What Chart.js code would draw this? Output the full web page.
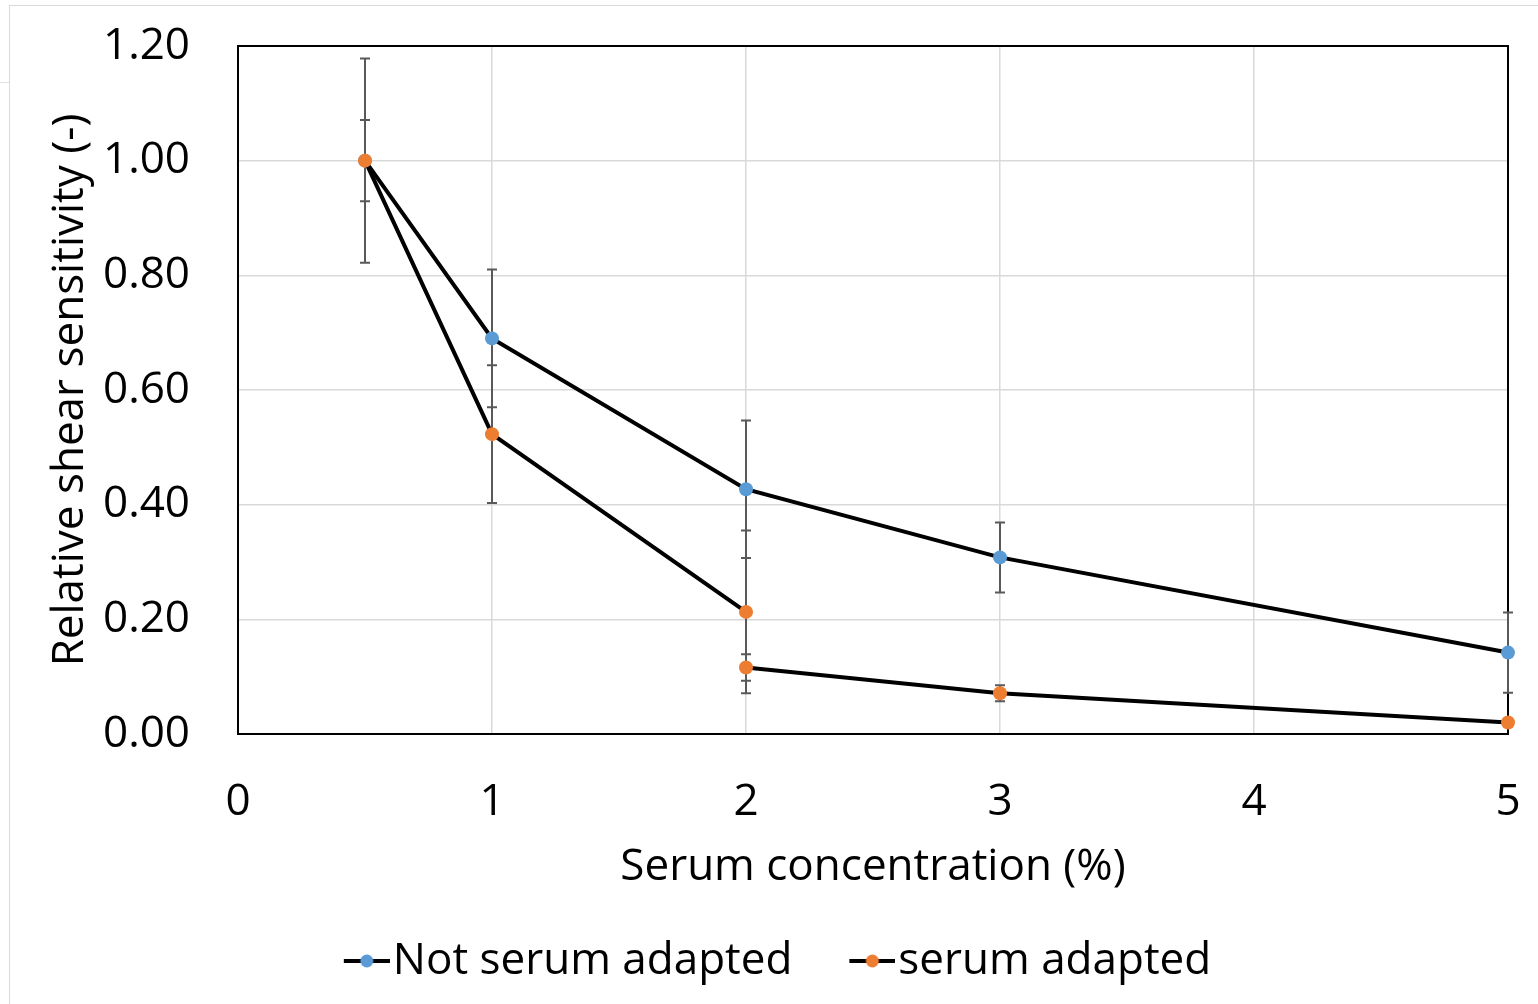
<!DOCTYPE html>
<html>
<head>
<meta charset="utf-8">
<script src="https://cdn.jsdelivr.net/npm/chart.js@4.4.1/dist/chart.umd.min.js"></script>
<style>
  html, body { margin: 0; padding: 0; background: #fff; }
  #wrap { position: relative; width: 1538px; height: 1004px; overflow: hidden; }
  #frame { position: absolute; left: 9px; top: 5px; width: 1600px; height: 1100px;
           border-left: 1px solid #d9d9d9; border-top: 1px solid #d9d9d9; }
  #tick { position: absolute; left: 0; top: 82px; width: 9px; height: 0; border-top: 1px solid #dde3ea; }
  canvas { position: absolute; left: 0; top: 0; }
</style>
</head>
<body>
<div id="wrap">
  <div id="frame"></div>
  <div id="tick"></div>
  <canvas id="c" width="1538" height="1004"></canvas>
</div>
<script>
// ---- data ----
const seriesNames = ['Not serum adapted', 'serum adapted'];
const notAdaptedX = [0.5, 1, 2, 3, 5];
const notAdaptedY = [1.00, 0.69, 0.427, 0.308, 0.142];
const notAdaptedErr = [0.178, 0.12, 0.12, 0.061, 0.07];
// serum adapted: the line breaks between the two x=2 points
const adaptedX = [0.5, 1, 2, 2, 2, 3, 5];
const adaptedY = [1.00, 0.523, 0.213, null, 0.116, 0.071, 0.020];
const adaptedErr = [0.071, 0.12, 0.142, null, 0.023, 0.014, 0];
const xTicks = [0, 1, 2, 3, 4, 5];
const yTicks = [0, 0.2, 0.4, 0.6, 0.8, 1.0, 1.2];

const FONT = "'Open Sans', 'Noto Sans', sans-serif";
const FS = 44;
const BLUE = '#5b9bd5';
const ORANGE = '#ed7d31';

function toPoints(xs, ys) { return xs.map((x, i) => ({ x: x, y: ys[i] })); }

// legend marker: black line with coloured dot, drawn on the right side of a wider transparent image
const LEG_PAD = 10;
const LEG_B = 74;               // pointStyleWidth
const LEG_W = LEG_B + FS - 6;   // image width (3px gap to text)
function legendMarker(color) {
  const cv = document.createElement('canvas');
  cv.width = LEG_W; cv.height = 16;
  const g = cv.getContext('2d');
  const x0 = LEG_W - 46;
  g.strokeStyle = '#000'; g.lineWidth = 4;
  g.beginPath(); g.moveTo(x0, 8); g.lineTo(LEG_W, 8); g.stroke();
  g.fillStyle = color;
  g.beginPath(); g.arc(x0 + 23, 8, 6.5, 0, Math.PI * 2); g.fill();
  return cv;
}
const markers = [legendMarker(BLUE), legendMarker(ORANGE)];

const errorBars = {
  id: 'errorBars',
  beforeDatasetsDraw(chart) {
    const ctx = chart.ctx;
    const xs = chart.scales.x, ys = chart.scales.y;
    const ca = chart.chartArea;
    ctx.save();
    ctx.strokeStyle = '#000'; ctx.lineWidth = 2;
    ctx.strokeRect(ca.left, ca.top, ca.right - ca.left, ca.bottom - ca.top);
    ctx.strokeStyle = '#595959'; ctx.lineWidth = 2;
    chart.data.datasets.forEach(ds => {
      ds.data.forEach((p, i) => {
        const e = ds.errors[i];
        if (p.y == null || !e) return;
        const px = Math.round(xs.getPixelForValue(p.x));
        const yTop = ys.getPixelForValue(p.y + e);
        const yBot = ys.getPixelForValue(Math.max(0, p.y - e));
        ctx.beginPath();
        ctx.moveTo(px, yTop); ctx.lineTo(px, yBot);
        ctx.moveTo(px - 5, yTop); ctx.lineTo(px + 5, yTop);
        if (p.y - e >= 0) { ctx.moveTo(px - 5, yBot); ctx.lineTo(px + 5, yBot); }
        ctx.stroke();
      });
    });
    ctx.restore();
  }
};

new Chart(document.getElementById('c'), {
  type: 'line',
  data: {
    datasets: [
      {
        label: seriesNames[0],
        data: toPoints(notAdaptedX, notAdaptedY),
        errors: notAdaptedErr,
        order: 1,
        borderColor: '#000', borderWidth: 4,
        pointBackgroundColor: BLUE, pointBorderColor: BLUE,
        pointRadius: 7, pointBorderWidth: 0,
        spanGaps: false, clip: false, tension: 0
      },
      {
        label: seriesNames[1],
        data: toPoints(adaptedX, adaptedY),
        errors: adaptedErr,
        order: 0,
        borderColor: '#000', borderWidth: 4,
        pointBackgroundColor: ORANGE, pointBorderColor: ORANGE,
        pointRadius: 7, pointBorderWidth: 0,
        spanGaps: false, clip: false, tension: 0
      }
    ]
  },
  options: {
    responsive: false,
    animation: false,
    layout: { padding: { left: 0, right: 30, top: 46, bottom: 11 } },
    plugins: {
      tooltip: { enabled: false },
      legend: {
        position: 'bottom',
        labels: {
          usePointStyle: true,
          pointStyleWidth: LEG_B,
          padding: LEG_PAD,
          color: '#000',
          font: { family: FONT, size: FS },
          generateLabels(chart) {
            return chart.data.datasets.map((ds, i) => ({
              text: ds.label, fillStyle: 'transparent', strokeStyle: 'transparent',
              lineWidth: 0, pointStyle: markers[i], datasetIndex: i, hidden: false,
              fontColor: '#000'
            }));
          }
        }
      }
    },
    scales: {
      x: {
        type: 'linear', min: 0, max: 5,
        afterBuildTicks(s) { s.ticks = xTicks.map(v => ({ value: v })); },
        ticks: { color: '#000', padding: 42, font: { family: FONT, size: FS } },
        grid: { color: '#d9d9d9', lineWidth: 1.5, drawTicks: false },
        border: { color: '#000', width: 2 },
        title: { display: true, text: 'Serum concentration (%)', color: '#000',
                 font: { family: FONT, size: FS }, padding: { top: 0, bottom: 35 } },
        afterFit(s) { s.height = 195; s.paddingLeft = 0; s.paddingRight = 0; }
      },
      y: {
        type: 'linear', min: 0, max: 1.2,
        afterBuildTicks(s) { s.ticks = yTicks.map(v => ({ value: v })); },
        ticks: { color: '#000', padding: 48, font: { family: FONT, size: FS },
                 callback: v => Number(v).toFixed(2) },
        grid: { color: '#d9d9d9', lineWidth: 1.5, drawTicks: false },
        border: { color: '#000', width: 2 },
        title: { display: true, text: 'Relative shear sensitivity (-)', color: '#000',
                 font: { family: FONT, size: FS }, padding: { top: 44, bottom: 0 } },
        afterFit(s) { s.width = 238; s.paddingTop = 0; s.paddingBottom = 0; }
      }
    }
  },
  plugins: [errorBars]
});
</script>
</body>
</html>
